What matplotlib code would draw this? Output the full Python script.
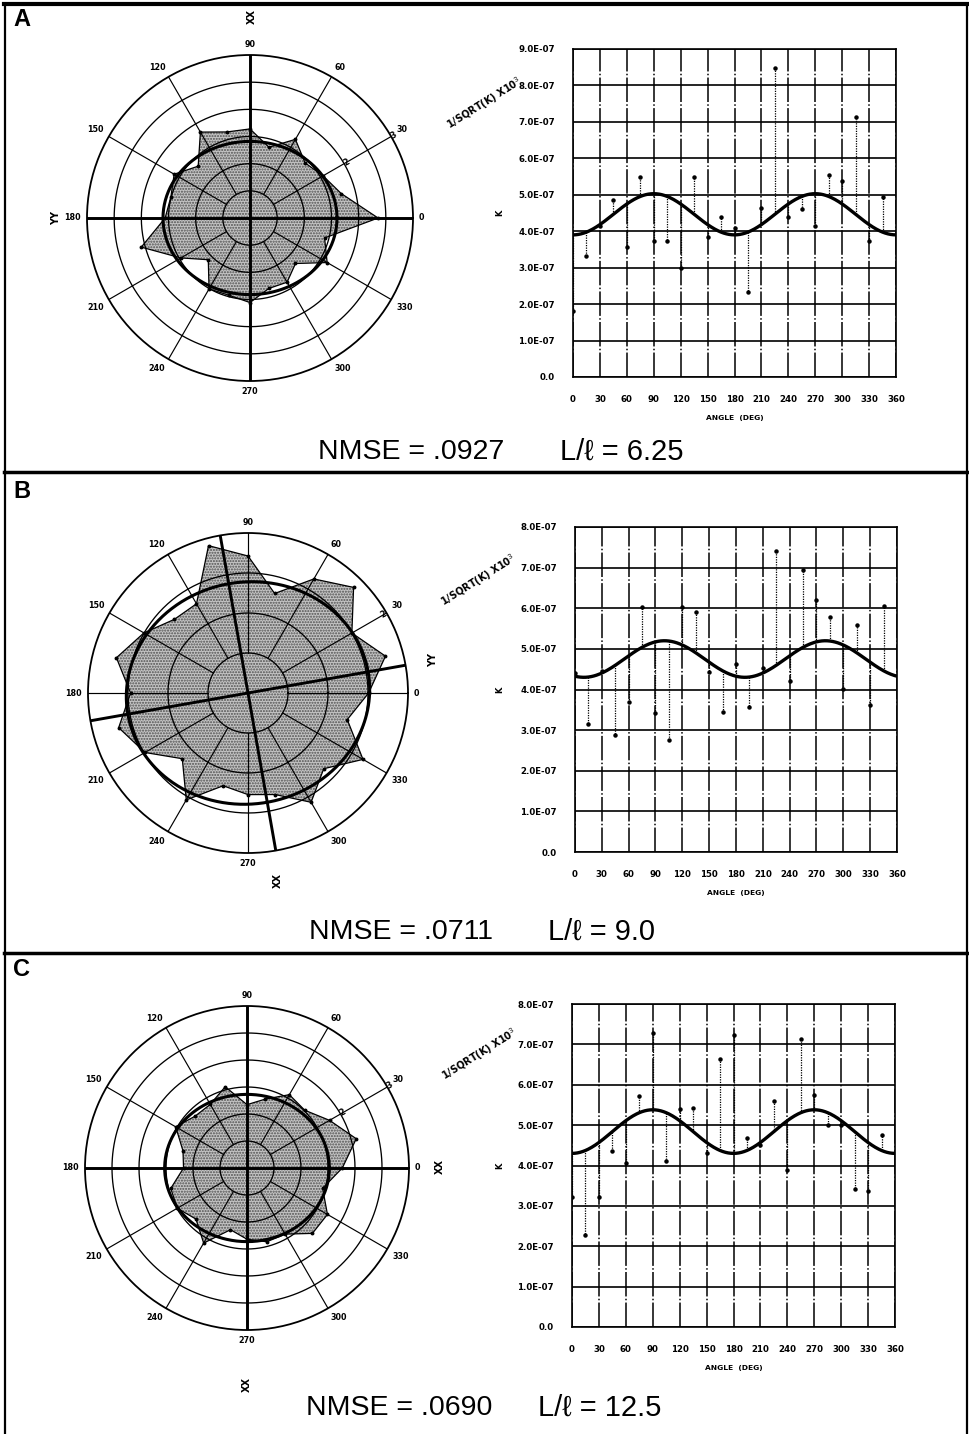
import numpy as np
import matplotlib
matplotlib.use("Agg")
import matplotlib.pyplot as plt
from matplotlib.lines import Line2D
from matplotlib.ticker import FuncFormatter

plt.rcParams['font.family'] = ['DejaVu Sans']

# ---------------- data ----------------
ANGLES = list(range(0, 360, 15))            # degrees
K_A = [1.80, 3.31, 4.15, 4.86, 3.58, 5.50, 3.72, 3.72, 3.00, 5.50, 3.85, 4.40,
       4.10, 2.33, 4.63, 8.48, 4.40, 4.60, 4.13, 5.55, 5.37, 7.13, 3.72, 4.95]   # x1e-7
K_B = [4.40, 3.16, 4.45, 2.87, 3.69, 6.03, 3.41, 2.75, 6.03, 5.90, 4.43, 3.45,
       4.64, 3.57, 4.52, 7.41, 4.20, 6.94, 6.20, 5.79, 4.02, 5.58, 3.63, 6.06]
K_C = [3.21, 2.28, 3.21, 4.37, 4.07, 5.72, 7.27, 4.12, 5.40, 5.42, 4.30, 6.64,
       7.24, 4.68, 4.50, 5.59, 3.88, 7.14, 5.75, 5.00, 5.00, 3.41, 3.38, 4.76]
# fitted model K(theta) = mean - amp*cos(2(theta - theta0))   (x1e-7, deg)
FIT_MEAN = [4.465, 4.75, 4.84]
FIT_AMP = [0.565, 0.45, 0.54]
FIT_THETA0 = [0.0, 10.0, 0.0]
PANEL_LETTERS = ["A", "B", "C"]
NMSE = [".0927", ".0711", ".0690"]
L_RATIO = ["6.25", "9.0", "12.5"]
K_YMAX = [9, 8, 8]            # x1e-7
POLAR_RMAX = [3.0, 2.0, 3.0]
ANGLE_TICKS = list(range(0, 361, 30))

# ---------------- layout (pixels) ----------------
W, H = 970, 1434
fig = plt.figure(figsize=(W / 100, H / 100), dpi=100)
fig.patch.set_facecolor('white')


def rect(x0, y0, x1, y1):
    return [x0 / W, 1 - y1 / H, (x1 - x0) / W, (y1 - y0) / H]


def ftext(x, y, s, **kw):
    fig.text(x / W, 1 - y / H, s, **kw)


def fline(xs, ys, **kw):
    fig.add_artist(Line2D([x / W for x in xs], [1 - y / H for y in ys],
                          transform=fig.transFigure, color='k', **kw))


POLAR_BOX = [(250, 218, 163), (248, 693, 160), (247, 1168, 162)]
CART_BOX = [(573, 49, 896, 377), (575, 527, 897, 852), (572, 1004, 895, 1327)]
LETTER_POS = [(22, 20), (22, 492), (22, 970)]
NMSE_Y = [452, 932, 1408]
NMSE_X = [(411, 622), (401, 602), (399, 600)]

bold6 = dict(fontsize=5.8, fontweight='bold')

for i in range(3):
    K = np.array([K_A, K_B, K_C][i]) * 1e-7
    ang = np.array(ANGLES, dtype=float)
    mean, amp, th0 = FIT_MEAN[i] * 1e-7, FIT_AMP[i] * 1e-7, FIT_THETA0[i]
    tfine = np.arange(0, 360.5, 1.0)
    kfit = mean - amp * np.cos(np.radians(2 * (tfine - th0)))
    kfit_pts = mean - amp * np.cos(np.radians(2 * (ang - th0)))

    # ---------- cartesian K vs angle ----------
    x0, y0, x1, y1 = CART_BOX[i]
    ax = fig.add_axes(rect(x0, y0, x1, y1))
    ymax = K_YMAX[i] * 1e-7
    ax.set_xlim(0, 360)
    ax.set_ylim(0, ymax)
    ax.set_xticks(ANGLE_TICKS)
    ax.set_yticks(np.arange(0, K_YMAX[i] + 1) * 1e-7)
    ax.yaxis.set_major_formatter(FuncFormatter(lambda v, p: "0.0" if abs(v) < 1e-12 else f"{v:.1E}"))
    ax.tick_params(length=0, labelsize=6.2, pad=13)
    ax.tick_params(axis='x', pad=13)
    for lab in ax.get_xticklabels() + ax.get_yticklabels():
        lab.set_fontweight('bold')
    ax.yaxis.grid(True, color='k', lw=1.2)
    ax.xaxis.grid(True, color='k', lw=1.1, linestyle=(0, (16, 1.5, 1, 1.5)))
    for s in ax.spines.values():
        s.set_linewidth(1.2)
    ax.vlines(ang, kfit_pts, K, colors='k', linestyles=(0, (1, 1)), lw=0.9, zorder=3)
    ax.plot(ang, K, 'o', color='k', ms=2.2, zorder=4)
    ax.plot(tfine, kfit, color='k', lw=2.4, zorder=5, solid_capstyle='butt')
    ax.set_xlabel("ANGLE  (DEG)", fontsize=5.4, fontweight='bold', labelpad=8)
    ax.text((500 - x0) / (x1 - x0), 0.5, "K", transform=ax.transAxes, rotation=90,
            ha='center', va='center', fontsize=6, fontweight='bold')

    # ---------- polar plot ----------
    cx, cy, R = POLAR_BOX[i]
    pax = fig.add_axes(rect(cx - R, cy - R, cx + R, cy + R), projection='polar')
    rmax = POLAR_RMAX[i]
    pax.set_ylim(0, rmax)
    pax.set_theta_zero_location('E')
    pax.set_xticks([])
    pax.set_yticks([])
    pax.grid(False)
    pax.spines['polar'].set_linewidth(1.3)
    pax.set_facecolor('none')

    r_data = 1.0 / np.sqrt(K) / 1000.0
    th = np.radians(np.append(ang, ang[0]))
    rd = np.append(r_data, r_data[0])
    pax.fill(th, rd, facecolor='#c4c4c4', edgecolor='none', zorder=1)
    pax.fill(th, rd, facecolor='none', edgecolor='#505050', lw=0, hatch='......', zorder=1.2)

    rings = np.arange(0.5, rmax + 0.01, 0.5)
    tc = np.linspace(0, 2 * np.pi, 361)
    for r in rings[:-1]:
        pax.plot(tc, np.full_like(tc, r), color='k', lw=0.95, zorder=2)
    for a in range(0, 360, 30):
        pax.plot([np.radians(a)] * 2, [0.5, rmax], color='k', lw=0.85, zorder=2)
    # principal axes
    for a in (th0, th0 + 90):
        pax.plot([np.radians(a), np.radians(a + 180)], [rmax, rmax], color='k', lw=2.1, zorder=3)
    pax.plot(th, rd, color='k', lw=0.9, zorder=4)
    pax.plot(th[:-1], rd[:-1], 'o', color='k', ms=1.8, zorder=4)
    pax.plot(np.radians(tfine), 1.0 / np.sqrt(kfit) / 1000.0, color='k', lw=2.2, zorder=5)

    for a in range(0, 360, 30):
        c, s_ = np.cos(np.radians(a)), np.sin(np.radians(a))
        ha = 'left' if c > 0.3 else ('right' if c < -0.3 else 'center')
        va = 'bottom' if s_ > 0.3 else ('top' if s_ < -0.3 else 'center')
        pax.text(np.radians(a), rmax * (1 + 6.0 / R), str(a), ha=ha, va=va,
                 clip_on=False, **bold6)
    if rmax >= 3:
        for rv in (2, 3):
            pax.text(np.radians(30), rv + 0.05, str(rv), ha='center', va='center',
                     rotation=30, clip_on=False, **bold6)
    else:
        pax.text(np.radians(30), rmax * 0.98, "2", ha='center', va='center',
                 rotation=30, clip_on=False, **bold6)
    pax.text(np.radians(26.0), rmax * 1.60, r"1/SQRT(K) X10$^3$", ha='center', va='center',
             rotation=32, rotation_mode='anchor', clip_on=False, fontsize=7.0, fontweight='bold')

    # panel letter and statistics
    lx, ly = LETTER_POS[i]
    ftext(lx, ly, PANEL_LETTERS[i], fontsize=17, fontweight='bold', ha='center', va='center',
          family='Liberation Sans')
    nx1, nx2 = NMSE_X[i]
    ftext(nx1, NMSE_Y[i], f"NMSE = {NMSE[i]}", fontsize=20.5, ha='center', va='center',
          family='Liberation Sans')
    ftext(nx2, NMSE_Y[i], f"L/ℓ = {L_RATIO[i]}", fontsize=21, ha='center', va='center',
          family=['Liberation Sans', 'DejaVu Sans'])

# axis-name labels near the polar plots
axis_labels = [("XX", 252, 17), ("YY", 56, 218),
               ("YY", 433, 660), ("XX", 278, 880),
               ("XX", 440, 1166), ("XX", 247, 1384)]
for s, x, y in axis_labels:
    ftext(x, y, s, rotation=90, ha='center', va='center', fontsize=7, fontweight='bold')

# page frame / separators
fline([4, 968], [4, 4], lw=3)
fline([5, 5], [4, 1434], lw=1.6)
fline([967, 967], [4, 1434], lw=1.6)
fline([4, 968], [472, 472], lw=2.5)
fline([4, 968], [953, 953], lw=2.5)

fig.savefig("out.png", dpi=100, facecolor='white')
